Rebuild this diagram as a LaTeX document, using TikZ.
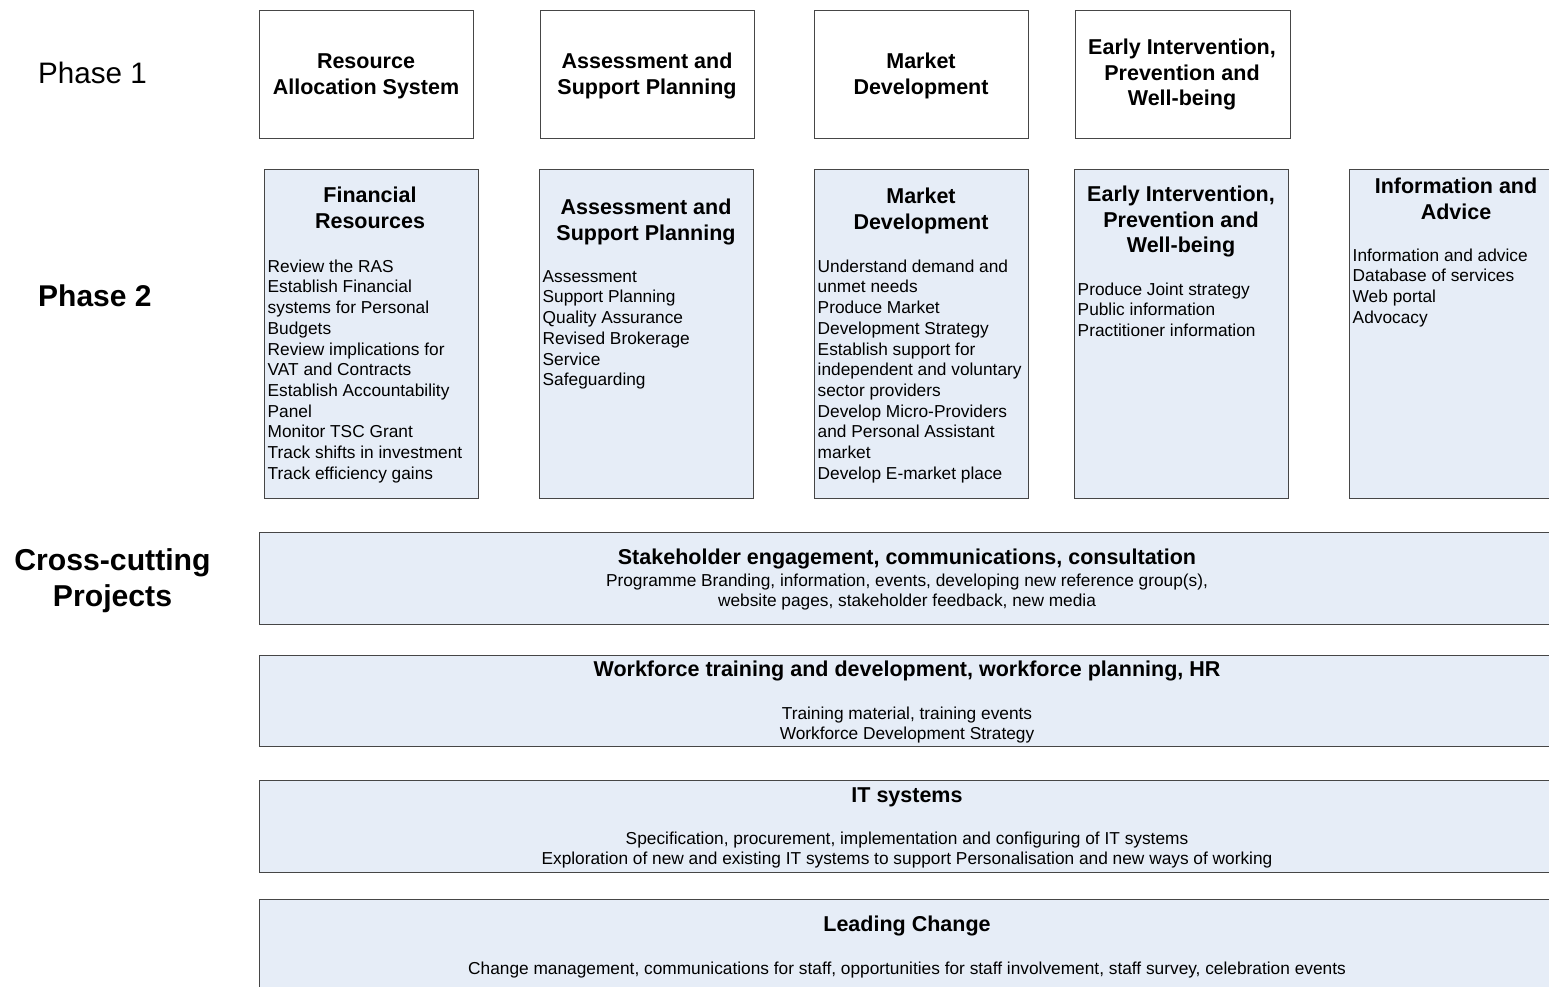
\documentclass[tikz,border=0pt]{standalone}
\usepackage{fontspec}
\setmainfont{Liberation Sans}
\definecolor{panelfill}{RGB}{230,237,247}
\definecolor{panelline}{RGB}{70,70,70}
% zero-width struts fixing the height of the first line of a text block
\newcommand\titlerule{\rule{0pt}{19pt}}
\newcommand\itemrule{\rule{0pt}{15pt}}
\newcommand\sidetitlerule{\rule{0pt}{23pt}}
\tikzset{
  plainbox/.style={draw=panelline, line width=1pt, fill=white, inner sep=0pt, anchor=north west},
  shadebox/.style={plainbox, fill=panelfill},
  ttl/.style={font=\bfseries\fontsize{21.5}{25.8}\selectfont, inner sep=0pt, align=center},
  itm/.style={font=\fontsize{17.3}{20.7}\selectfont, inner sep=0pt, align=left, anchor=north west},
  citm/.style={font=\fontsize{17.3}{20.7}\selectfont, inner sep=0pt, align=center, anchor=north},
}
\begin{document}
\begin{tikzpicture}[x=1pt,y=-1pt]
\useasboundingbox (0,0) rectangle (1549,986);
\clip (0,0) rectangle (1549,986);

% row labels
\node[font=\fontsize{29.6}{35.5}\selectfont, inner sep=0pt, anchor=base west] (lbl1) at (38,83) {Phase 1};
\node[font=\bfseries\fontsize{30}{36}\selectfont, inner sep=0pt, anchor=base west] (lbl2) at (38,306) {Phase 2};
\node[font=\bfseries\fontsize{30.2}{36}\selectfont, inner sep=0pt, align=center, anchor=north] (lbl3) at (112.5,547) {\sidetitlerule Cross-cutting\\Projects};

% phase 1 boxes
\node[plainbox, minimum width=214pt, minimum height=128pt] (a1) at (259,10) {};
\node[plainbox, minimum width=214pt, minimum height=128pt] (a2) at (540,10) {};
\node[plainbox, minimum width=214pt, minimum height=128pt] (a3) at (814,10) {};
\node[plainbox, minimum width=215pt, minimum height=128pt] (a4) at (1075,10) {};
\node[ttl, anchor=north] (a1t) at (366,49) {\titlerule Resource\\Allocation System};
\node[ttl, anchor=north] (a2t) at (647,49) {\titlerule Assessment and\\Support Planning};
\node[ttl, anchor=north] (a3t) at (921,49) {\titlerule Market\\Development};
\node[ttl, anchor=north] (a4t) at (1182,35) {\titlerule Early Intervention,\\Prevention and\\Well-being};

% phase 2 boxes
\node[shadebox, minimum width=214pt, minimum height=329pt] (b1) at (264,169) {};
\node[shadebox, minimum width=214pt, minimum height=329pt] (b2) at (539,169) {};
\node[shadebox, minimum width=214pt, minimum height=329pt] (b3) at (814,169) {};
\node[shadebox, minimum width=214pt, minimum height=329pt] (b4) at (1074,169) {};
\node[shadebox, minimum width=214pt, minimum height=329pt] (b5) at (1349,169) {};

\node[ttl, anchor=north] (b1t) at (370,183) {\titlerule Financial\\Resources};
\node[itm] (b1i) at (267.5,257) {\itemrule Review the RAS\\Establish Financial\\systems for Personal\\Budgets\\Review implications for\\VAT and Contracts\\Establish Accountability\\Panel\\Monitor TSC Grant\\Track shifts in investment\\Track efficiency gains};

\node[ttl, anchor=north] (b2t) at (646,195) {\titlerule Assessment and\\Support Planning};
\node[itm] (b2i) at (542.5,267) {\itemrule Assessment\\Support Planning\\Quality Assurance\\Revised Brokerage\\Service\\Safeguarding};

\node[ttl, anchor=north] (b3t) at (921,184) {\titlerule Market\\Development};
\node[itm] (b3i) at (817.5,257) {\itemrule Understand demand and\\unmet needs\\Produce Market\\Development Strategy\\Establish support for\\independent and voluntary\\sector providers\\Develop Micro-Providers\\and Personal Assistant\\market\\Develop E-market place};

\node[ttl, anchor=north] (b4t) at (1181,182) {\titlerule Early Intervention,\\Prevention and\\Well-being};
\node[itm] (b4i) at (1077.5,280) {\itemrule Produce Joint strategy\\Public information\\Practitioner information};

\node[ttl, anchor=north] (b5t) at (1456,174) {\titlerule Information and\\Advice};
\node[itm] (b5i) at (1352.5,246) {\itemrule Information and advice\\Database of services\\Web portal\\Advocacy};

% cross-cutting project bands
\node[shadebox, minimum width=1298pt, minimum height=92pt] (c1) at (259,532) {};
\node[shadebox, minimum width=1298pt, minimum height=91pt] (c2) at (259,655) {};
\node[shadebox, minimum width=1298pt, minimum height=92pt] (c3) at (259,780) {};
\node[shadebox, minimum width=1298pt, minimum height=110pt] (c4) at (259,899) {};

\node[ttl, anchor=base] (c1t) at (907,564) {Stakeholder engagement, communications, consultation};
\node[citm] (c1i) at (907,571) {\itemrule Programme Branding, information, events, developing new reference group(s),\\website pages, stakeholder feedback, new media};

\node[ttl, anchor=base] (c2t) at (907,676) {Workforce training and development, workforce planning, HR};
\node[citm] (c2i) at (907,704) {\itemrule Training material, training events\\Workforce Development Strategy};

\node[ttl, anchor=base] (c3t) at (907,802) {IT systems};
\node[citm] (c3i) at (907,829) {\itemrule Specification, procurement, implementation and configuring of IT systems\\Exploration of new and existing IT systems to support Personalisation and new ways of working};

\node[ttl, anchor=base] (c4t) at (907,931) {Leading Change};
\node[citm] (c4i) at (907,959) {\itemrule Change management, communications for staff, opportunities for staff involvement, staff survey, celebration events};
\end{tikzpicture}
\end{document}
